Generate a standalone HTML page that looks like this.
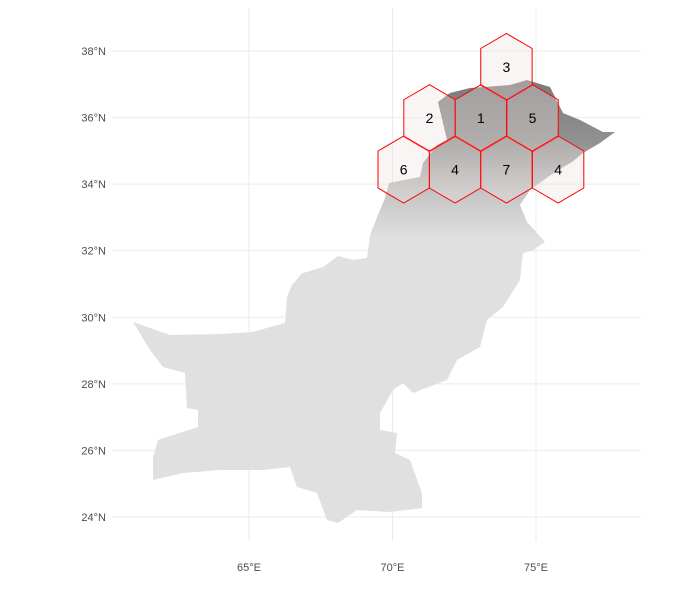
<!DOCTYPE html>
<html><head><meta charset="utf-8"><style>
html,body{margin:0;padding:0;background:#fff;}
svg{display:block;font-family:"Liberation Sans",sans-serif;}
</style></head><body>
<svg id="chart" width="696" height="597" viewBox="0 0 696 597">
<defs>
<linearGradient id="elev" gradientUnits="userSpaceOnUse" x1="0" y1="80" x2="0" y2="240">
<stop offset="0" stop-color="#7a7a7a"/><stop offset="0.4" stop-color="#929292"/>
<stop offset="0.7" stop-color="#c4c4c4"/><stop offset="1" stop-color="#e0e0e0"/>
</linearGradient>
</defs>
<g id="grid"></g>
<g id="axes"></g>
<polygon fill="url(#elev)" points="133,322 170,335 223,334 252,332 285,323 287,297 292,285 302,273 307,272 323,267 338,256 353,260 367,258 370,235 378,215 385,198 389,183 420,177 423,163 437,145 447,140 438,102 450,93 470,88 510,85 527,80 550,87 563,113 580,120 603,132 615,132 600,143 583,153 572,162 555,172 530,190 520,205 527,222 537,233 545,242 533,250 523,253 520,280 503,307 487,320 480,347 457,360 447,380 413,393 403,383 393,390 380,413 380,430 397,433 395,453 410,460 422,493 422,508 390,512 357,510 338,523 327,520 317,493 297,487 290,467 263,470 220,470 183,473 153,480 153,457 158,440 198,427 198,410 187,408 185,373 163,367 150,350"/>
<g id="hexes"></g>
</svg>
<script>
const hexLon=[73.97,71.29,73.08,74.88,70.39,72.18,73.97,75.77];
const hexLat=[37.52,35.98,35.98,35.98,34.44,34.44,34.44,34.44];
const hexCount=[3,2,1,5,6,4,7,4];
const latTicks=[38,36,34,32,30,28,26,24];
const lonTicks=[65,70,75];
const NS="http://www.w3.org/2000/svg";
const xs=lon=>249+(lon-65)*28.7;
const ys=lat=>51+(38-lat)*33.286;
function mk(tag,attrs,parent){const e=document.createElementNS(NS,tag);for(const k in attrs)e.setAttribute(k,attrs[k]);parent.appendChild(e);return e;}
const grid=document.getElementById('grid'),axes=document.getElementById('axes'),hexes=document.getElementById('hexes');
latTicks.forEach(v=>{
  const l=mk('line',{x1:112,x2:641,y1:ys(v),y2:ys(v),stroke:'#ebebeb','stroke-width':1},grid);
  
  
  const t=mk('text',{x:106,y:ys(v)+4,'text-anchor':'end','font-size':11,fill:'#4d4d4d'},axes);
  t.textContent=v+'°N';
  
  
});
lonTicks.forEach(v=>{
  const l=mk('line',{x1:xs(v),x2:xs(v),y1:8,y2:541,stroke:'#ebebeb','stroke-width':1},grid);
  
  
  const t=mk('text',{x:xs(v),y:571,'text-anchor':'middle','font-size':11,fill:'#4d4d4d'},axes);
  t.textContent=v+'°E';
  
  
});
hexCount.forEach((c,i)=>{
  const cx=xs(hexLon[i]),cy=ys(hexLat[i]);
  const w=25.7,a=33.5,b=18.5;
  const pts=[[cx,cy-a],[cx+w,cy-b],[cx+w,cy+b],[cx,cy+a],[cx-w,cy+b],[cx-w,cy-b]].map(p=>p.join(',')).join(' ');
  const p=mk('polygon',{points:pts,fill:'rgba(240,225,225,0.35)',stroke:'#ff0000','stroke-width':1},hexes);
  
  
  const t=mk('text',{x:cx,y:cy+5,'text-anchor':'middle','font-size':14,fill:'#000'},hexes);
  t.textContent=c;
  
  
});
</script>
</body></html>
